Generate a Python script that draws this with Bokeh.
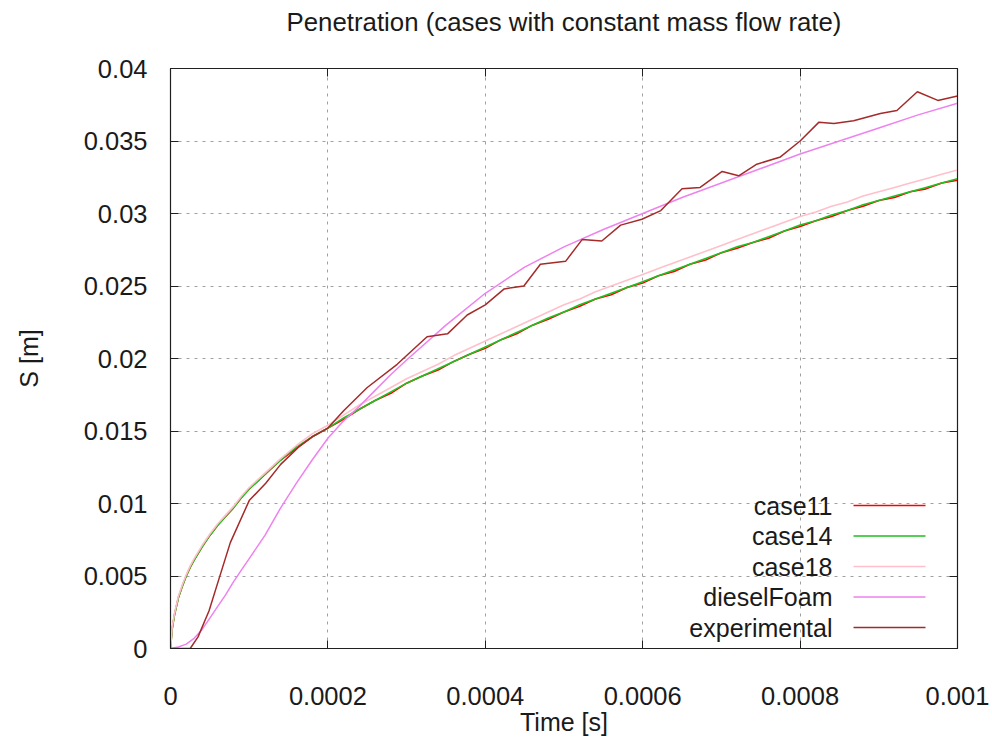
from bokeh.plotting import figure
from bokeh.models import Range1d, FixedTicker, LinearAxis, Label, BoxAnnotation
from bokeh.embed import file_html
from bokeh.resources import INLINE

# ---------------- data (time in microseconds, penetration in metres) ----------------
t_case_us = [0, 2, 5, 10, 15, 20, 25, 30, 40, 50, 60, 70, 80, 90, 100,
             120, 140, 160, 180, 200, 220, 240, 260, 280, 300,
             320, 340, 360, 380, 400, 420, 440, 460, 480, 500,
             520, 540, 560, 580, 600, 620, 640, 660, 680, 700,
             720, 740, 760, 780, 800, 820, 840, 860, 880, 900,
             920, 940, 960, 980, 1000]

case11 = [0, 0.0013, 0.0023, 0.0035, 0.0043, 0.0050, 0.0056, 0.0061, 0.0070, 0.0078,
          0.0085, 0.0091, 0.0097, 0.0104, 0.0110,
          0.0120, 0.0130, 0.0138, 0.0146, 0.0152,
          0.0158, 0.0165, 0.0171, 0.0176, 0.0183,
          0.0188, 0.0192, 0.0198, 0.0203, 0.0207,
          0.0213, 0.0217, 0.0223, 0.0227, 0.0232,
          0.0236, 0.0241, 0.0244, 0.0249, 0.0252,
          0.0257, 0.0260, 0.0265, 0.0268, 0.0273,
          0.0276, 0.0280, 0.0283, 0.0288, 0.0291,
          0.0295, 0.0298, 0.0302, 0.0305, 0.0309,
          0.0311, 0.0315, 0.0317, 0.0321, 0.0323]

case14 = [0, 0.0013, 0.0023, 0.0035, 0.0043, 0.0050, 0.0056, 0.0061, 0.0070, 0.0078,
          0.0085, 0.0091, 0.0097, 0.0104, 0.0110,
          0.0120, 0.0130, 0.0139, 0.0146, 0.0152,
          0.0159, 0.0165, 0.0171, 0.0177, 0.0183,
          0.0188, 0.0193, 0.0198, 0.0203, 0.0208,
          0.0213, 0.0218, 0.0223, 0.0228, 0.0232,
          0.0237, 0.0241, 0.0245, 0.0249, 0.0253,
          0.0257, 0.0261, 0.0265, 0.0269, 0.0273,
          0.0277, 0.0280, 0.0284, 0.0288, 0.0292,
          0.0295, 0.0299, 0.0302, 0.0306, 0.0309,
          0.0312, 0.0315, 0.0318, 0.0321, 0.0324]

case18 = [0, 0.0014, 0.0024, 0.0036, 0.0044, 0.0051, 0.0057, 0.0062, 0.0071, 0.0079,
          0.0086, 0.0092, 0.0098, 0.0105, 0.0111,
          0.0121, 0.0131, 0.0140, 0.0148, 0.0154,
          0.0161, 0.0168, 0.0174, 0.0180, 0.0186,
          0.0191, 0.0196, 0.0202, 0.0207, 0.0212,
          0.0217, 0.0222, 0.0227, 0.0232, 0.0237,
          0.0241, 0.0246, 0.0250, 0.0254, 0.0258,
          0.0262, 0.0266, 0.0270, 0.0274, 0.0278,
          0.0282, 0.0286, 0.0290, 0.0294, 0.0298,
          0.0301, 0.0305, 0.0308, 0.0312, 0.0315,
          0.0318, 0.0321, 0.0324, 0.0327, 0.0330]

t_diesel_us = [0, 10, 20, 30, 40, 50, 60, 70, 80, 90, 100, 120, 140, 160, 180, 200,
               220, 240, 260, 280, 300, 350, 400, 450, 500, 550, 600, 650, 700,
               750, 800, 850, 900, 950, 1000]
dieselFoam = [0, 0.0001, 0.0003, 0.0007, 0.0013, 0.0021, 0.0029, 0.0037, 0.0046, 0.0054,
              0.0062, 0.0078, 0.0097, 0.0114, 0.0130, 0.0145,
              0.0157, 0.0167, 0.0178, 0.0189, 0.0199, 0.0223, 0.0245, 0.0263, 0.0277,
              0.0289, 0.0300, 0.0311, 0.0321, 0.0331, 0.0341, 0.0350, 0.0359, 0.0368, 0.0376]

t_exp_us = [0, 25, 35, 49, 61, 76, 100, 121, 140, 163, 180, 200, 220, 250, 288, 326,
            352, 377, 400, 424, 449, 470, 502, 523, 548, 572, 599, 623, 650, 673,
            701, 722, 745, 775, 800, 824, 843, 868, 902, 923, 949, 975, 1000]
experimental = [0, 0, 0.0008, 0.0026, 0.0047, 0.0073, 0.0102, 0.0114, 0.0127, 0.0139,
                0.0146, 0.0152, 0.0164, 0.0180, 0.0196, 0.0215, 0.0217, 0.0230, 0.0237,
                0.0248, 0.0250, 0.0265, 0.0267, 0.0282, 0.0281, 0.0292, 0.0296, 0.0302,
                0.0317, 0.0318, 0.0329, 0.0326, 0.0334, 0.0339, 0.0350, 0.0363, 0.0362,
                0.0364, 0.0369, 0.0371, 0.0384, 0.0378, 0.0381]

series_names = ["case11", "case14", "case18", "dieselFoam", "experimental"]
series_colors = ["#ff0000", "#20c020", "#ffc0cb", "#ee82ee", "#a52a2a"]

x_ticks = [0, 0.0002, 0.0004, 0.0006, 0.0008, 0.001]
x_tick_labels = ["0", "0.0002", "0.0004", "0.0006", "0.0008", "0.001"]
y_ticks = [0, 0.005, 0.01, 0.015, 0.02, 0.025, 0.03, 0.035, 0.04]
y_tick_labels = ["0", "0.005", "0.01", "0.015", "0.02", "0.025", "0.03", "0.035", "0.04"]

title_text = "Penetration (cases with constant mass flow rate)"
x_label = "Time [s]"
y_label = "S [m]"

# ---------------- figure ----------------
FONT = "Liberation Sans"
FS = "25px"
TICK_FS = "25.5px"
TXT = "#1a1a1a"
FRAME_W, FRAME_H = 787, 580

p = figure(frame_width=FRAME_W, frame_height=FRAME_H,
           min_border_left=170, min_border_right=35, min_border_top=68, min_border_bottom=92,
           x_range=Range1d(0, 0.001), y_range=Range1d(0, 0.04),
           output_backend="svg", toolbar_location=None, title=title_text)

p.background_fill_color = "white"
p.border_fill_color = "white"
p.outline_line_color = "#202020"
p.outline_line_width = 1.2

p.title.align = "center"
p.title.text_font = FONT
p.title.text_font_size = "25.8px"
p.title.text_font_style = "normal"
p.title.text_color = TXT
p.title.standoff = 0
try:
    p.title.padding = (0, 0, 0, 33)
except Exception:
    p.title.standoff = 40

def us(vals):
    return [v * 1e-6 for v in vals]

t_case = us(t_case_us)
p.line(t_case, case11, line_color=series_colors[0], line_width=1.6)
p.line(t_case, case14, line_color=series_colors[1], line_width=1.6)
p.line(t_case, case18, line_color=series_colors[2], line_width=1.6)
p.line(us(t_diesel_us), dieselFoam, line_color=series_colors[3], line_width=1.5)
p.line(us(t_exp_us), experimental, line_color=series_colors[4], line_width=1.5)

# grid
for g in (p.xgrid, p.ygrid):
    g.grid_line_color = "#a0a0a0"
    g.grid_line_dash = "3 5"
    g.grid_line_width = 1
p.xgrid.ticker = FixedTicker(ticks=x_ticks)
p.ygrid.ticker = FixedTicker(ticks=y_ticks)

def style_axis(ax, ticks, labels, show_labels=True):
    ax.ticker = FixedTicker(ticks=ticks)
    ax.major_label_overrides = dict(zip(ticks, labels))
    ax.major_tick_in = 8
    ax.major_tick_out = 0
    ax.minor_tick_line_color = None
    ax.major_tick_line_color = "#202020"
    ax.axis_line_color = "#202020"
    ax.major_label_text_font = FONT
    ax.major_label_text_font_size = TICK_FS
    ax.major_label_text_color = TXT
    ax.axis_label_text_font = FONT
    ax.axis_label_text_font_size = FS
    ax.axis_label_text_font_style = "normal"
    ax.axis_label_text_color = TXT
    if not show_labels:
        ax.major_label_text_alpha = 0
        ax.major_label_text_font_size = "1px"
        ax.major_label_standoff = 0

xa = p.xaxis[0]
ya = p.yaxis[0]
style_axis(xa, x_ticks, x_tick_labels)
style_axis(ya, y_ticks, y_tick_labels)
xa.axis_label = x_label
ya.axis_label = y_label
xa.major_label_standoff = 38
ya.major_label_standoff = 23
xa.axis_label_standoff = 0
ya.axis_label_standoff = 38

top_ax = LinearAxis()
right_ax = LinearAxis()
style_axis(top_ax, x_ticks, x_tick_labels, show_labels=False)
style_axis(right_ax, y_ticks, y_tick_labels, show_labels=False)
p.add_layout(top_ax, "above")
p.add_layout(right_ax, "right")

# legend (gnuplot style: right-aligned text, sample line to the right)
row_top = 143
row_step = 30.5
for i, (name, col) in enumerate(zip(series_names, series_colors)):
    yy = row_top - i * row_step
    p.add_layout(Label(x=662, y=yy, x_units="screen", y_units="screen", text=name,
                       text_align="right", text_baseline="middle", text_font=FONT,
                       text_font_size=FS, text_color=TXT))
    p.add_layout(BoxAnnotation(left=683, right=755, bottom=yy, top=yy,
                               left_units="screen", right_units="screen",
                               bottom_units="screen", top_units="screen",
                               fill_alpha=0, line_color=col, line_width=1.6, line_alpha=1))

open("out.html", "w").write(file_html(p, INLINE))
